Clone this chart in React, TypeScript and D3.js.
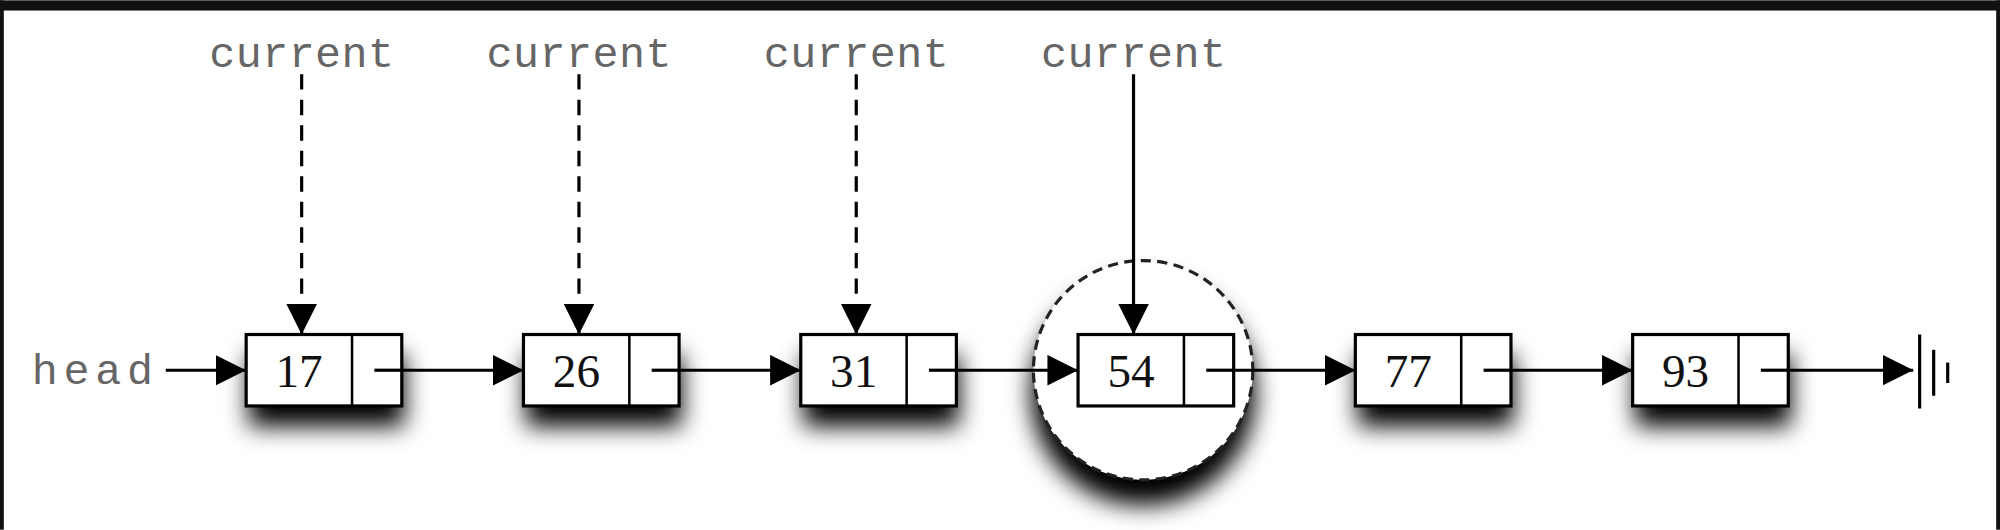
import * as d3 from "d3";

const values = [17, 26, 31, 54, 77, 93];
const pointerSteps = [0, 1, 2, 3];
const activeStep = 3;
const pointerLabel = "current";
const headLabel = "head";

const W = 1568;
const H = 415;

export default function App() {
  const x = d3.scaleLinear().domain([0, values.length - 1]).range([193, 1280]);
  const boxW = 122;
  const cellW = 39;
  const boxTop = 262;
  const boxH = 56;
  const midY = boxTop + boxH / 2;
  const mono = "'Liberation Mono', 'DejaVu Sans Mono', monospace";

  return (
    <svg
      width={2000}
      height={530}
      viewBox={`0 0 ${W} ${H}`}
      style={{ position: "absolute", left: 0, top: 0 }}
    >
      <defs>
        <filter id="blur" x="-50%" y="-50%" width="200%" height="200%">
          <feGaussianBlur stdDeviation="9" />
        </filter>
        <marker id="arr" viewBox="0 0 10 10" refX="10" refY="5" markerWidth="24" markerHeight="24" markerUnits="userSpaceOnUse" orient="auto">
          <path d="M0,0 L10,5 L0,10 Z" fill="#000" />
        </marker>
      </defs>
      <rect width={W} height={H} fill="#fff" />
      {/* dark frame */}
      <rect x={0} y={0} width={W} height={8} fill="#111" />
      <rect x={0} y={0} width={3} height={H} fill="#111" />
      <rect x={W - 3} y={0} width={3} height={H} fill="#111" />

      {/* highlighted node circle */}
      <circle cx={x(activeStep) + boxW / 2 - 10} cy={midY + 18} r={88} fill="#000" filter="url(#blur)" />
      <circle cx={x(activeStep) + boxW / 2 - 10} cy={midY} r={86} fill="#fff" stroke="#222" strokeWidth={2.5} strokeDasharray="8,5" />

      {/* node shadows */}
      {values.map((v, i) =>
        i === activeStep ? null : (
          <rect key={"s" + v} x={x(i) + 2} y={boxTop + 16} width={boxW} height={boxH} fill="#000" filter="url(#blur)" />
        )
      )}

      {/* links */}
      <line x1={130} y1={midY} x2={x(0)} y2={midY} stroke="#000" strokeWidth={2.5} markerEnd="url(#arr)" />
      {values.map((v, i) => {
        const x1 = x(i) + boxW - cellW / 2;
        const x2 = i < values.length - 1 ? x(i + 1) : 1500;
        return <line key={"l" + v} x1={x1} y1={midY} x2={x2} y2={midY} stroke="#000" strokeWidth={2.5} markerEnd="url(#arr)" />;
      })}

      {/* nodes */}
      {values.map((v, i) => (
        <g key={v}>
          <rect x={x(i)} y={boxTop} width={boxW} height={boxH} fill="#fff" stroke="#000" strokeWidth={2.5} />
          <line x1={x(i) + boxW - cellW} y1={boxTop} x2={x(i) + boxW - cellW} y2={boxTop + boxH} stroke="#000" strokeWidth={2} />
          <line x1={x(i) + boxW - cellW / 2 - 2} y1={midY} x2={x(i) + boxW} y2={midY} stroke="#000" strokeWidth={2.5} />
          <text x={x(i) + (boxW - cellW) / 2} y={midY + 13} textAnchor="middle" fontFamily="Liberation Serif" fontSize={37} fill="#111">
            {v}
          </text>
        </g>
      ))}

      {/* ground symbol */}
      <line x1={1505} y1={262} x2={1505} y2={320} stroke="#000" strokeWidth={2.5} />
      <line x1={1516} y1={274} x2={1516} y2={310} stroke="#000" strokeWidth={2.5} />
      <line x1={1527} y1={284} x2={1527} y2={300} stroke="#000" strokeWidth={2.5} />

      {/* head label */}
      <text x={25} y={midY + 11} fontFamily={mono} fontSize={34} fill="#666" textLength={95}>
        {headLabel}
      </text>

      {/* current pointers */}
      {pointerSteps.map((s) => {
        const cx = x(s) + (boxW - cellW) / 2 + 2;
        return (
          <g key={"p" + s}>
            <text x={cx} y={52} textAnchor="middle" fontFamily={mono} fontSize={34} fill="#666" textLength={145}>
              {pointerLabel}
            </text>
            <line
              x1={cx}
              y1={58}
              x2={cx}
              y2={boxTop}
              stroke="#000"
              strokeWidth={2.5}
              strokeDasharray={s === activeStep ? undefined : "12,8"}
              markerEnd="url(#arr)"
            />
          </g>
        );
      })}
    </svg>
  );
}
